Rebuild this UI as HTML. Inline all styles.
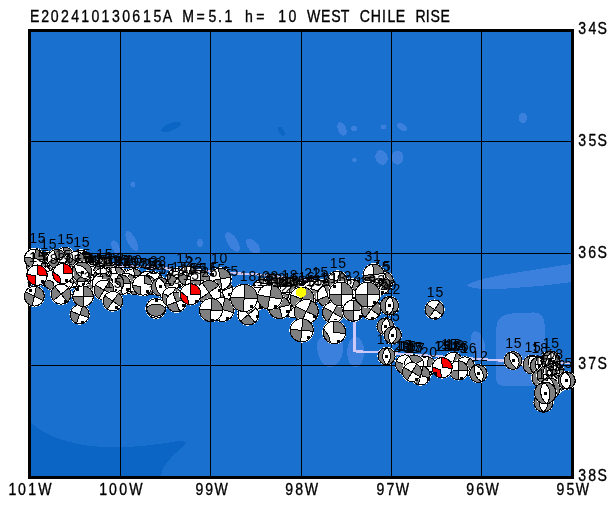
<!DOCTYPE html>
<html lang="en"><head><meta charset="utf-8"><title>E202410130615A M=5.1 h= 10 WEST CHILE RISE</title>
<style>
html,body{margin:0;padding:0;background:#fff;}
body{width:616px;height:505px;overflow:hidden;position:relative;font-family:"Liberation Sans",sans-serif;}
svg{position:absolute;left:0;top:0;display:block;}
text{fill:#000;}
.t{font-family:"Liberation Sans",sans-serif;font-size:16.8px;white-space:pre;stroke:#000;stroke-width:.35px;}
.b text{font-family:"Liberation Sans",sans-serif;font-size:14px;letter-spacing:.8px;}
</style></head><body>
<svg width="616" height="505" viewBox="0 0 616 505">
<rect x="0" y="0" width="616" height="505" fill="#fff"/>
<g>
<rect x="29" y="30" width="544" height="448" fill="#1a70cf"/>
<g shape-rendering="crispEdges"><path d="M29 421 C40 432 60 442 90 446 C120 449 150 446 178 441 C186 440 188 443 183 447 C172 456 162 465 160 478 L29 478Z" fill="#0b65c4"/><path d="M496 330 C496 318 503 314 512 313.5 L532 312.5 C540 312 544.5 316 544.5 324 L544.5 378 C544.5 383 541 386 536 386 L505 386 C499 386 496 383 496 377Z" fill="#3a80dc"/><path d="M467 285.5 C470 282 480 279.5 500 275.2 L571 264 L571 282.2 L540 286 L500 289 C485 289.6 470 288.8 467 285.5Z" fill="#3a80dc"/><path d="M317 348 C316 338 322 335 331 335 C340 335 344 339 343.5 348 C343 358 337 367.5 330 367.5 C323 367.5 318 358 317 348Z" fill="#3a80dc"/><ellipse cx="355.6" cy="352" rx="8.5" ry="15.3" fill="#3a80dc"/><ellipse cx="478" cy="346" rx="7" ry="15" fill="#3a80dc" transform="rotate(-12 478 346)"/><ellipse cx="171" cy="127" rx="10.5" ry="3.7" fill="#0b65c4" transform="rotate(-20 171 127)"/><ellipse cx="281.3" cy="131.3" rx="2.5" ry="5" fill="#0b65c4" transform="rotate(-30 281.3 131.3)"/><ellipse cx="133" cy="184.5" rx="2.5" ry="3" fill="#3a80dc"/><ellipse cx="342" cy="129" rx="4" ry="7" fill="#3a80dc" transform="rotate(-25 342 129)"/><ellipse cx="354" cy="128.5" rx="3" ry="2.5" fill="#3a80dc"/><ellipse cx="383.5" cy="127" rx="2.5" ry="2.5" fill="#3a80dc"/><ellipse cx="402" cy="127" rx="5.5" ry="3.2" fill="#3a80dc" transform="rotate(35 402 127)"/><ellipse cx="523" cy="118" rx="4" ry="5.5" fill="#3a80dc"/><ellipse cx="354.5" cy="160" rx="2.5" ry="2" fill="#3a80dc" transform="rotate(30 354.5 160)"/><ellipse cx="381.5" cy="157.5" rx="6" ry="7.5" fill="#3a80dc" transform="rotate(-20 381.5 157.5)"/><ellipse cx="397.5" cy="157.5" rx="6" ry="7" fill="#3a80dc"/><ellipse cx="131.8" cy="241" rx="4.3" ry="11" fill="#3a80dc" transform="rotate(-28 131.8 241)"/><ellipse cx="115.6" cy="247" rx="3.5" ry="7" fill="#3a80dc" transform="rotate(-25 115.6 247)"/><ellipse cx="200" cy="243" rx="3" ry="4" fill="#3a80dc"/><ellipse cx="232.5" cy="242" rx="5" ry="11" fill="#3a80dc" transform="rotate(-33 232.5 242)"/><ellipse cx="253" cy="246.2" rx="5" ry="9" fill="#3a80dc" transform="rotate(-40 253 246.2)"/></g>
</g>
<g shape-rendering="crispEdges" fill="#000">
<rect x="120" y="30" width="1" height="448"/>
<rect x="210" y="30" width="1" height="448"/>
<rect x="301" y="30" width="1" height="448"/>
<rect x="391" y="30" width="1" height="448"/>
<rect x="481" y="30" width="1" height="448"/>
<rect x="29" y="141" width="544" height="1"/>
<rect x="29" y="253" width="544" height="1"/>
<rect x="29" y="365" width="544" height="1"/>
</g>
<rect x="29.5" y="30.5" width="543" height="447" fill="none" stroke="#000" stroke-width="3" shape-rendering="crispEdges"/>
<path d="M31 261.7 L158 267.8 L238 273.4 L257 274.3 L302 279.5 L354.5 281 L354.5 351.3 L378 352.3 L500 360.5 L571 363.3" fill="none" stroke="#cdc8fa" stroke-width="2.3" stroke-linejoin="miter" shape-rendering="crispEdges"/>
<g class="b" shape-rendering="crispEdges" text-anchor="middle">
<circle cx="35" cy="258" r="10.3" fill="#fff"/><path d="M35 258L36.6 248.6A9.5 9.5 0 0 1 44.4 259.6ZM35 258L33.4 267.4A9.5 9.5 0 0 1 25.6 256.4Z" fill="#808080" stroke="#000"/><circle cx="35" cy="258" r="9.5" fill="none" stroke="#000"/><rect x="38" y="263" width="3" height="3" fill="#000"/><text x="37.8" y="243">15</text>
<circle cx="48" cy="261.5" r="10.3" fill="#fff"/><path d="M48 261.5L52.8 253.3A9.5 9.5 0 0 1 56.2 266.2ZM48 261.5L43.2 269.7A9.5 9.5 0 0 1 39.8 256.8Z" fill="#808080" stroke="#000"/><circle cx="48" cy="261.5" r="9.5" fill="none" stroke="#000"/><rect x="48" y="267" width="3" height="3" fill="#000"/><text x="48.8" y="248.5">15</text>
<circle cx="65" cy="257" r="10.3" fill="#fff"/><path d="M65 257L63.4 247.6A9.5 9.5 0 0 1 74.4 255.4ZM65 257L66.6 266.4A9.5 9.5 0 0 1 55.6 258.6Z" fill="#808080" stroke="#000"/><circle cx="65" cy="257" r="9.5" fill="none" stroke="#000"/><rect x="70" y="260" width="3" height="3" fill="#000"/><text x="65.8" y="244">15</text>
<circle cx="81" cy="259.5" r="10.3" fill="#fff"/><path d="M81 259.5L84.2 250.6A9.5 9.5 0 0 1 89.9 262.7ZM81 259.5L77.8 268.4A9.5 9.5 0 0 1 72.1 256.3Z" fill="#808080" stroke="#000"/><circle cx="81" cy="259.5" r="9.5" fill="none" stroke="#000"/><rect x="83" y="265" width="3" height="3" fill="#000"/><text x="81.8" y="246.5">15</text>
<circle cx="104" cy="267" r="10.3" fill="#fff"/><path d="M104 267L104.8 257.5A9.5 9.5 0 0 1 113.5 267.8ZM104 267L103.2 276.5A9.5 9.5 0 0 1 94.5 266.2Z" fill="#808080" stroke="#000"/><circle cx="104" cy="267" r="9.5" fill="none" stroke="#000"/><rect x="107" y="271" width="3" height="3" fill="#000"/><text x="104.8" y="258.5">15</text>
<circle cx="50" cy="268" r="10.3" fill="#fff"/><path d="M50 268L53.2 259.1A9.5 9.5 0 0 1 58.9 271.2ZM50 268L46.8 276.9A9.5 9.5 0 0 1 41.1 264.8Z" fill="#808080" stroke="#000"/><circle cx="50" cy="268" r="9.5" fill="none" stroke="#000"/><rect x="52" y="273" width="3" height="3" fill="#000"/>
<circle cx="70" cy="266" r="10.3" fill="#fff"/><path d="M70 266L66.8 257.1A9.5 9.5 0 0 1 78.9 262.8ZM70 266L73.2 274.9A9.5 9.5 0 0 1 61.1 269.2Z" fill="#808080" stroke="#000"/><circle cx="70" cy="266" r="9.5" fill="none" stroke="#000"/><rect x="75" y="268" width="3" height="3" fill="#000"/>
<circle cx="93" cy="271" r="10.3" fill="#fff"/><path d="M93 271L97.8 262.8A9.5 9.5 0 0 1 101.2 275.8ZM93 271L88.2 279.2A9.5 9.5 0 0 1 84.8 266.2Z" fill="#808080" stroke="#000"/><circle cx="93" cy="271" r="9.5" fill="none" stroke="#000"/><rect x="93" y="277" width="3" height="3" fill="#000"/>
<circle cx="36" cy="266" r="10.3" fill="#fff"/><path d="M36 266L42.1 258.7A9.5 9.5 0 0 1 43.3 272.1ZM36 266L29.9 273.3A9.5 9.5 0 0 1 28.7 259.9Z" fill="#808080" stroke="#000"/><circle cx="36" cy="266" r="9.5" fill="none" stroke="#000"/>
<circle cx="72.2" cy="278.2" r="10.5" fill="#fff"/><path d="M68.9 269.1A12.4 12.4 0 0 1 75.5 287.3A9.7 9.7 0 0 0 68.9 269.1ZM75.5 287.3A12.4 12.4 0 0 1 68.9 269.1A9.7 9.7 0 0 0 75.5 287.3Z" fill="#808080" stroke="#000"/><circle cx="72.2" cy="278.2" r="9.7" fill="none" stroke="#000"/><rect x="71" y="277" width="3" height="3" fill="#000"/><text x="73" y="265">15</text>
<circle cx="94.8" cy="280.5" r="10.9" fill="#fff"/><path d="M96.8 278.5L95.7 270.4A10.1 10.1 0 0 1 104.9 279.6ZM92.8 282.5L93.9 290.6A10.1 10.1 0 0 1 84.7 281.4Z" fill="#808080" stroke="#000"/><circle cx="94.8" cy="280.5" r="10.1" fill="none" stroke="#000"/><rect x="99" y="285" width="3" height="3" fill="#000"/><text x="95.6" y="266.9">21</text>
<circle cx="83.1" cy="275.7" r="10.6" fill="#fff"/><path d="M85 275L88 267.2A9.8 9.8 0 0 1 92.3 279.1ZM81.2 276.4L78.2 284.2A9.8 9.8 0 0 1 73.9 272.3Z" fill="#808080" stroke="#000"/><circle cx="83.1" cy="275.7" r="9.8" fill="none" stroke="#000"/><rect x="84" y="282" width="3" height="3" fill="#000"/><text x="83.9" y="262.4">22</text>
<circle cx="63.7" cy="281" r="10.7" fill="#fff"/><path d="M66.1 279.4L64.6 271.1A9.9 9.9 0 0 1 73.3 283.6ZM61.3 282.6L62.8 290.9A9.9 9.9 0 0 1 54.1 278.4Z" fill="#808080" stroke="#000"/><circle cx="63.7" cy="281" r="9.9" fill="none" stroke="#000"/><rect x="67" y="286" width="3" height="3" fill="#000"/><text x="64.5" y="267.6">13</text>
<circle cx="47.9" cy="276.4" r="11.1" fill="#fff"/><path d="M49.7 286.5A12.9 12.9 0 0 1 46.1 266.3A10.3 10.3 0 0 0 49.7 286.5ZM46.1 266.3A12.9 12.9 0 0 1 49.7 286.5A10.3 10.3 0 0 0 46.1 266.3Z" fill="#808080" stroke="#000"/><circle cx="47.9" cy="276.4" r="10.3" fill="none" stroke="#000"/><rect x="46" y="275" width="3" height="3" fill="#000"/><text x="48.7" y="262.6">15</text>
<circle cx="81.7" cy="276.3" r="10.4" fill="#fff"/><path d="M83.2 275.9L86.5 268A9.6 9.6 0 0 1 90 281.1ZM80.2 276.7L76.9 284.6A9.6 9.6 0 0 1 73.4 271.5Z" fill="#808080" stroke="#000"/><circle cx="81.7" cy="276.3" r="9.6" fill="none" stroke="#000"/><rect x="82" y="282" width="3" height="3" fill="#000"/><text x="82.5" y="263.2">16</text>
<circle cx="53.6" cy="280" r="11" fill="#fff"/><path d="M54.6 278.8L51.8 270A10.2 10.2 0 0 1 63.8 280ZM52.6 281.2L55.4 290A10.2 10.2 0 0 1 43.4 280Z" fill="#808080" stroke="#000"/><circle cx="53.6" cy="280" r="10.2" fill="none" stroke="#000"/><rect x="58" y="284" width="3" height="3" fill="#000"/><text x="54.4" y="266.3">20</text>
<text x="36.3" y="260.2">28</text>
<text x="41.4" y="260.4">25</text>
<text x="45.1" y="262.1">18</text>
<text x="52.4" y="262.6">15</text>
<text x="56.6" y="259.6">33</text>
<text x="63.5" y="262.9">15</text>
<text x="67.5" y="261.7">10</text>
<text x="72.9" y="263.1">15</text>
<text x="77.8" y="264.6">15</text>
<text x="80" y="261.5">15</text>
<text x="87.8" y="265">12</text>
<text x="92.1" y="265.6">20</text>
<text x="96.1" y="263.2">15</text>
<circle cx="34" cy="258.5" r="10.3" fill="#fff"/><path d="M34 258.5L35.6 249.1A9.5 9.5 0 0 1 43.4 260.1ZM34 258.5L32.4 267.9A9.5 9.5 0 0 1 24.6 256.9Z" fill="#808080" stroke="#000"/><circle cx="34" cy="258.5" r="9.5" fill="none" stroke="#000"/>
<circle cx="57" cy="259" r="10.3" fill="#fff"/><path d="M57 259L53.8 250.1A9.5 9.5 0 0 1 65.9 255.8ZM57 259L60.2 267.9A9.5 9.5 0 0 1 48.1 262.2Z" fill="#808080" stroke="#000"/><circle cx="57" cy="259" r="9.5" fill="none" stroke="#000"/>
<circle cx="76" cy="261" r="10.3" fill="#fff"/><path d="M76 261L80.8 252.8A9.5 9.5 0 0 1 84.2 265.8ZM76 261L71.2 269.2A9.5 9.5 0 0 1 67.8 256.2Z" fill="#808080" stroke="#000"/><circle cx="76" cy="261" r="9.5" fill="none" stroke="#000"/>
<text x="37.8" y="261.9">15</text>
<text x="49.7" y="263.5">18</text>
<text x="66" y="262.9">20</text>
<text x="73.6" y="264.7">15</text>
<text x="82.6" y="264.3">15</text>
<text x="90.9" y="265.7">15</text>
<circle cx="82" cy="272" r="10.8" fill="#fff"/><path d="M89.1 279.1A13.4 13.4 0 0 1 74.9 264.9A10 10 0 0 0 89.1 279.1ZM74.9 264.9A13.4 13.4 0 0 1 89.1 279.1A10 10 0 0 0 74.9 264.9Z" fill="#808080" stroke="#000"/><circle cx="82" cy="272" r="10" fill="none" stroke="#000"/><rect x="81" y="271" width="3" height="3" fill="#000"/><text x="82.8" y="258.5">15</text>
<circle cx="61.1" cy="294.2" r="10.8" fill="#fff"/><path d="M61.1 294.2L68.8 287.8A10 10 0 0 1 67.5 301.9ZM61.1 294.2L53.4 300.6A10 10 0 0 1 54.7 286.5Z" fill="#808080" stroke="#000"/><circle cx="61.1" cy="294.2" r="10" fill="none" stroke="#000"/><rect x="64" y="300" width="3" height="3" fill="#000"/><text x="61.9" y="280.7">13</text>
<circle cx="34.3" cy="296.2" r="10.7" fill="#fff"/><path d="M34.3 296.2L36.4 286.5A9.9 9.9 0 0 1 43.1 300.7ZM34.3 296.2L32.2 305.9A9.9 9.9 0 0 1 25.5 291.7Z" fill="#808080" stroke="#000"/><circle cx="34.3" cy="296.2" r="9.9" fill="none" stroke="#000"/><rect x="29" y="289" width="3" height="3" fill="#000"/><text x="35.1" y="282.8">15</text>
<circle cx="79.7" cy="314.5" r="10.3" fill="#fff"/><path d="M79.7 314.5L82.9 305.6A9.5 9.5 0 0 1 88.6 317.7ZM79.7 314.5L76.5 323.4A9.5 9.5 0 0 1 70.8 311.3Z" fill="#808080" stroke="#000"/><circle cx="79.7" cy="314.5" r="9.5" fill="none" stroke="#000"/><rect x="81" y="321" width="3" height="3" fill="#000"/>
<circle cx="83" cy="296.2" r="11.1" fill="#fff"/><path d="M83 296.2L83 285.9A10.3 10.3 0 0 1 93.3 296.2ZM83 296.2L83 306.5A10.3 10.3 0 0 1 72.7 296.2Z" fill="#808080" stroke="#000"/><circle cx="83" cy="296.2" r="10.3" fill="none" stroke="#000"/><rect x="76" y="288" width="3" height="3" fill="#000"/><text x="83.8" y="282.4">23</text>
<circle cx="37" cy="275.2" r="11" fill="#fff"/><path d="M37.3 274.9L37.9 265A10.2 10.2 0 0 1 47.2 275.6ZM36 275.7L35.9 285.3A10.2 10.2 0 0 1 26.8 274.3Z" fill="#ff0000" stroke="#000"/><circle cx="37" cy="275.2" r="10.2" fill="none" stroke="#000"/><rect x="41" y="280" width="3" height="3" fill="#000"/><text x="37.8" y="261.5">15</text>
<circle cx="62.8" cy="273.6" r="10.9" fill="#fff"/><path d="M63.3 273.2L63.7 263.5A10.1 10.1 0 0 1 72.9 273.2ZM59.6 276.4L61 283.5A10.1 10.1 0 0 1 52.9 271.8Z" fill="#ff0000" stroke="#000"/><circle cx="62.8" cy="273.6" r="10.1" fill="none" stroke="#000"/><rect x="65" y="279" width="3" height="3" fill="#000"/><text x="63.6" y="260">15</text>
<circle cx="122.7" cy="279.1" r="10.7" fill="#fff"/><path d="M124.4 276.7L121 269.4A9.9 9.9 0 0 1 132.4 277.4ZM121 281.5L124.4 288.8A9.9 9.9 0 0 1 113 280.8Z" fill="#808080" stroke="#000"/><circle cx="122.7" cy="279.1" r="9.9" fill="none" stroke="#000"/><rect x="128" y="282" width="3" height="3" fill="#000"/><text x="123.5" y="265.7">17</text>
<circle cx="130.1" cy="280.1" r="11.3" fill="#fff"/><path d="M133 279.8L136.8 272.1A10.5 10.5 0 0 1 138.1 286.8ZM127.2 280.4L123.4 288.1A10.5 10.5 0 0 1 122.1 273.4Z" fill="#808080" stroke="#000"/><circle cx="130.1" cy="280.1" r="10.5" fill="none" stroke="#000"/><rect x="129" y="287" width="3" height="3" fill="#000"/><text x="130.9" y="266.1">20</text>
<circle cx="115.5" cy="277.4" r="11.3" fill="#fff"/><path d="M116.6 276.3L115.5 266.9A10.5 10.5 0 0 1 126 277.4ZM114.4 278.5L115.5 287.9A10.5 10.5 0 0 1 105 277.4Z" fill="#808080" stroke="#000"/><circle cx="115.5" cy="277.4" r="10.5" fill="none" stroke="#000"/><rect x="120" y="282" width="3" height="3" fill="#000"/><text x="116.3" y="263.4">22</text>
<circle cx="133.3" cy="278.4" r="10.5" fill="#fff"/><path d="M135.2 276.8L133.3 268.7A9.7 9.7 0 0 1 142.9 280.1ZM131.4 280L133.3 288.1A9.7 9.7 0 0 1 123.7 276.7Z" fill="#808080" stroke="#000"/><circle cx="133.3" cy="278.4" r="9.7" fill="none" stroke="#000"/><rect x="137" y="283" width="3" height="3" fill="#000"/><text x="134.1" y="265.2">20</text>
<circle cx="147.5" cy="281.6" r="11.2" fill="#fff"/><path d="M150.5 281.3L154.2 273.6A10.4 10.4 0 0 1 155.5 288.3ZM144.5 281.9L140.8 289.6A10.4 10.4 0 0 1 139.5 274.9Z" fill="#808080" stroke="#000"/><circle cx="147.5" cy="281.6" r="10.4" fill="none" stroke="#000"/><rect x="147" y="288" width="3" height="3" fill="#000"/><text x="148.3" y="267.7">25</text>
<circle cx="103.3" cy="278.2" r="11.1" fill="#fff"/><path d="M105.7 278L109.9 270.3A10.3 10.3 0 0 1 111.2 284.8ZM100.9 278.4L96.7 286.1A10.3 10.3 0 0 1 95.4 271.6Z" fill="#808080" stroke="#000"/><circle cx="103.3" cy="278.2" r="10.3" fill="none" stroke="#000"/><rect x="103" y="285" width="3" height="3" fill="#000"/><text x="104.1" y="264.4">15</text>
<circle cx="153.5" cy="281.9" r="10.8" fill="#fff"/><path d="M155.8 281.9L159.9 274.2A10 10 0 0 1 159.9 289.6ZM151.2 281.9L147.1 289.6A10 10 0 0 1 147.1 274.2Z" fill="#808080" stroke="#000"/><circle cx="153.5" cy="281.9" r="10" fill="none" stroke="#000"/><rect x="152" y="288" width="3" height="3" fill="#000"/><text x="154.3" y="268.4">16</text>
<circle cx="135.4" cy="285" r="10.5" fill="#fff"/><path d="M136.5 283.7L133.7 275.4A9.7 9.7 0 0 1 145.1 285ZM134.3 286.3L137.1 294.6A9.7 9.7 0 0 1 125.7 285Z" fill="#808080" stroke="#000"/><circle cx="135.4" cy="285" r="9.7" fill="none" stroke="#000"/><rect x="140" y="288" width="3" height="3" fill="#000"/>
<circle cx="146.6" cy="285.3" r="10.5" fill="#fff"/><path d="M148.3 294.9A12.7 12.7 0 0 1 144.9 275.7A9.7 9.7 0 0 0 148.3 294.9ZM144.9 275.7A12.7 12.7 0 0 1 148.3 294.9A9.7 9.7 0 0 0 144.9 275.7Z" fill="#808080" stroke="#000"/><circle cx="146.6" cy="285.3" r="9.7" fill="none" stroke="#000"/><rect x="145" y="284" width="3" height="3" fill="#000"/>
<circle cx="125.8" cy="283.5" r="11.1" fill="#fff"/><path d="M126.8 282.9L129.3 273.8A10.3 10.3 0 0 1 135.9 285.3ZM124.8 284.1L122.3 293.2A10.3 10.3 0 0 1 115.7 281.7Z" fill="#808080" stroke="#000"/><circle cx="125.8" cy="283.5" r="10.3" fill="none" stroke="#000"/><rect x="128" y="289" width="3" height="3" fill="#000"/>
<circle cx="120.8" cy="284.7" r="10.8" fill="#fff"/><path d="M121.7 283.5L119.1 274.9A10 10 0 0 1 130.6 283ZM119.9 285.9L122.5 294.5A10 10 0 0 1 111 286.4Z" fill="#808080" stroke="#000"/><circle cx="120.8" cy="284.7" r="10" fill="none" stroke="#000"/><rect x="126" y="288" width="3" height="3" fill="#000"/>
<circle cx="142.6" cy="285.2" r="10.8" fill="#fff"/><path d="M144.5 283.6L144.3 275.4A10 10 0 0 1 152.6 285.2ZM140.7 286.8L140.9 295A10 10 0 0 1 132.6 285.2Z" fill="#808080" stroke="#000"/><circle cx="142.6" cy="285.2" r="10" fill="none" stroke="#000"/><rect x="146" y="290" width="3" height="3" fill="#000"/>
<circle cx="113.8" cy="283" r="10.7" fill="#fff"/><path d="M115.6 282.5L118.8 274.4A9.9 9.9 0 0 1 122.4 287.9ZM112 283.5L108.8 291.6A9.9 9.9 0 0 1 105.2 278.1Z" fill="#808080" stroke="#000"/><circle cx="113.8" cy="283" r="9.9" fill="none" stroke="#000"/><rect x="114" y="289" width="3" height="3" fill="#000"/>
<circle cx="102.5" cy="283.5" r="11.1" fill="#fff"/><path d="M103.3 282.4L101.6 273.2A10.3 10.3 0 0 1 112.4 280.8ZM101.7 284.6L103.4 293.8A10.3 10.3 0 0 1 92.6 286.2Z" fill="#808080" stroke="#000"/><circle cx="102.5" cy="283.5" r="10.3" fill="none" stroke="#000"/><rect x="108" y="287" width="3" height="3" fill="#000"/>
<text x="100" y="265.3">15</text>
<text x="103.7" y="264.1">13</text>
<text x="108.4" y="265.7">10</text>
<text x="113.5" y="265.8">33</text>
<text x="114.8" y="266">10</text>
<text x="120.5" y="264.9">15</text>
<text x="123.4" y="267.5">15</text>
<text x="129.6" y="267.8">15</text>
<text x="133.3" y="268.2">15</text>
<text x="139.7" y="268.4">15</text>
<text x="147.7" y="267.8">15</text>
<text x="151.7" y="269.3">21</text>
<text x="154.7" y="270.3">13</text>
<circle cx="104" cy="290" r="10.8" fill="#fff"/><path d="M104 290L109 281.3A10 10 0 0 1 112.7 295ZM104 290L99 298.7A10 10 0 0 1 95.3 285Z" fill="#808080" stroke="#000"/><circle cx="104" cy="290" r="10" fill="none" stroke="#000"/><rect x="105" y="296" width="3" height="3" fill="#000"/><text x="104.8" y="276.5">18</text>
<circle cx="112.9" cy="301.2" r="10.6" fill="#fff"/><path d="M112.9 301.2L118.5 293.2A9.8 9.8 0 0 1 120.9 306.8ZM112.9 301.2L107.3 309.2A9.8 9.8 0 0 1 104.9 295.6Z" fill="#808080" stroke="#000"/><circle cx="112.9" cy="301.2" r="9.8" fill="none" stroke="#000"/><rect x="115" y="306" width="3" height="3" fill="#000"/><text x="113.7" y="287.9">15</text>
<circle cx="156" cy="308.4" r="10.6" fill="#fff"/><path d="M165.8 308.4A10 10 0 0 1 146.2 308.4A13.1 13.1 0 0 1 165.8 308.4Z" fill="#808080" stroke="#000"/><circle cx="156" cy="308.4" r="9.8" fill="none" stroke="#000"/><rect x="155" y="299" width="3" height="3" fill="#000"/><text x="156.8" y="295.1">13</text>
<circle cx="160.6" cy="286.8" r="10" fill="#fff"/><path d="M158.2 277.9A11.5 11.5 0 0 1 163 295.7A9.2 9.2 0 0 0 158.2 277.9ZM163 295.7A11.5 11.5 0 0 1 158.2 277.9A9.2 9.2 0 0 0 163 295.7Z" fill="#808080" stroke="#000"/><circle cx="160.6" cy="286.8" r="9.2" fill="none" stroke="#000"/><rect x="159" y="285" width="3" height="3" fill="#000"/><text x="158.4" y="274.1">23</text>
<circle cx="177" cy="278" r="10.6" fill="#fff"/><path d="M177 278L181.9 269.5A9.8 9.8 0 0 1 185.5 282.9ZM177 278L172.1 286.5A9.8 9.8 0 0 1 168.5 273.1Z" fill="#808080" stroke="#000"/><circle cx="177" cy="278" r="9.8" fill="none" stroke="#000"/><rect x="178" y="284" width="3" height="3" fill="#000"/><text x="158.3" y="265.7">23</text>
<circle cx="188" cy="276" r="10.6" fill="#fff"/><path d="M188 276L191.4 266.8A9.8 9.8 0 0 1 197.2 279.4ZM188 276L184.6 285.2A9.8 9.8 0 0 1 178.8 272.6Z" fill="#808080" stroke="#000"/><circle cx="188" cy="276" r="9.8" fill="none" stroke="#000"/><rect x="190" y="282" width="3" height="3" fill="#000"/><text x="184.8" y="262.7">15</text>
<circle cx="200" cy="280" r="10.6" fill="#fff"/><path d="M200 280L200 270.2A9.8 9.8 0 0 1 209.8 280ZM200 280L200 289.8A9.8 9.8 0 0 1 190.2 280Z" fill="#808080" stroke="#000"/><circle cx="200" cy="280" r="9.8" fill="none" stroke="#000"/><rect x="204" y="284" width="3" height="3" fill="#000"/><text x="194.3" y="267.2">22</text>
<text x="166.7" y="274.2">15</text>
<text x="177.1" y="276.2">15</text>
<text x="179.9" y="272">15</text>
<text x="189.4" y="272.9">15</text>
<text x="195.4" y="273.5">15</text>
<text x="198.7" y="273.3">15</text>
<text x="209.3" y="273.4">15</text>
<text x="217.5" y="274.4">15</text>
<text x="224.1" y="278.9">15</text>
<text x="230.6" y="276.4">15</text>
<circle cx="172" cy="297" r="10.8" fill="#fff"/><path d="M172 297L175.4 287.6A10 10 0 0 1 181.4 300.4ZM172 297L168.6 306.4A10 10 0 0 1 162.6 293.6Z" fill="#808080" stroke="#000"/><circle cx="172" cy="297" r="10" fill="none" stroke="#000"/><rect x="174" y="303" width="3" height="3" fill="#000"/><text x="172.8" y="283.5">23</text>
<circle cx="176.3" cy="302" r="10.8" fill="#fff"/><path d="M176.3 302L172.9 292.6A10 10 0 0 1 185.7 298.6ZM176.3 302L179.7 311.4A10 10 0 0 1 166.9 305.4Z" fill="#808080" stroke="#000"/><circle cx="176.3" cy="302" r="10" fill="none" stroke="#000"/><rect x="182" y="304" width="3" height="3" fill="#000"/>
<circle cx="231" cy="298.5" r="11.3" fill="#fff"/><path d="M231 298.5L236.2 289.4A10.5 10.5 0 0 1 240.1 303.8ZM231 298.5L225.8 307.6A10.5 10.5 0 0 1 221.9 293.2Z" fill="#808080" stroke="#000"/><circle cx="231" cy="298.5" r="10.5" fill="none" stroke="#000"/><rect x="232" y="305" width="3" height="3" fill="#000"/>
<circle cx="222" cy="291" r="11.8" fill="#fff"/><path d="M222 291L218.2 280.7A11 11 0 0 1 232.3 287.2ZM222 291L225.8 301.3A11 11 0 0 1 211.7 294.8Z" fill="#808080" stroke="#000"/><circle cx="222" cy="291" r="11" fill="none" stroke="#000"/><rect x="228" y="293" width="3" height="3" fill="#000"/><text x="222.8" y="276.5">25</text>
<circle cx="220.3" cy="279" r="11.6" fill="#fff"/><path d="M220.3 279L218.4 268.4A10.8 10.8 0 0 1 230.9 277.1ZM220.3 279L222.2 289.6A10.8 10.8 0 0 1 209.7 280.9Z" fill="#808080" stroke="#000"/><circle cx="220.3" cy="279" r="10.8" fill="none" stroke="#000"/><rect x="211" y="273" width="3" height="3" fill="#000"/><text x="219.6" y="263.2">10</text>
<circle cx="209" cy="292.5" r="12.8" fill="#fff"/><path d="M209 292.5L202.1 282.7A12 12 0 0 1 218.8 285.6ZM209 292.5L215.9 302.3A12 12 0 0 1 199.2 299.4Z" fill="#808080" stroke="#000"/><circle cx="209" cy="292.5" r="12" fill="none" stroke="#000"/><rect x="218" y="289" width="3" height="3" fill="#000"/><text x="209.8" y="277">25</text>
<circle cx="222" cy="309.5" r="12.8" fill="#fff"/><path d="M222 309.5L225.1 297.9A12 12 0 0 1 233.6 312.6ZM222 309.5L218.9 321.1A12 12 0 0 1 210.4 306.4Z" fill="#808080" stroke="#000"/><circle cx="222" cy="309.5" r="12" fill="none" stroke="#000"/><rect x="226" y="317" width="3" height="3" fill="#000"/>
<circle cx="211" cy="310" r="12.3" fill="#fff"/><path d="M211 310L212 298.5A11.5 11.5 0 0 1 222.5 311ZM211 310L210 321.5A11.5 11.5 0 0 1 199.5 309Z" fill="#808080" stroke="#000"/><circle cx="211" cy="310" r="11.5" fill="none" stroke="#000"/><rect x="211" y="319" width="3" height="3" fill="#000"/>
<circle cx="190.5" cy="294.2" r="11.3" fill="#fff"/><path d="M190.7 294.4L190.5 283.7A10.5 10.5 0 0 1 201 295.1ZM187.3 296.8L189 304.6A10.5 10.5 0 0 1 180.4 291.5Z" fill="#ff0000" stroke="#000"/><circle cx="190.5" cy="294.2" r="10.5" fill="none" stroke="#000"/><rect x="195" y="300" width="3" height="3" fill="#000"/><text x="191.3" y="280.2">15</text>
<circle cx="263" cy="290" r="11.8" fill="#fff"/><path d="M263 290L268.5 280.5A11 11 0 0 1 272.5 295.5ZM263 290L257.5 299.5A11 11 0 0 1 253.5 284.5Z" fill="#808080" stroke="#000"/><circle cx="263" cy="290" r="11" fill="none" stroke="#000"/><rect x="264" y="297" width="3" height="3" fill="#000"/><text x="263.8" y="282.5">13</text>
<circle cx="277" cy="289" r="11.8" fill="#fff"/><path d="M277 289L277 278A11 11 0 0 1 288 289ZM277 289L277 300A11 11 0 0 1 266 289Z" fill="#808080" stroke="#000"/><circle cx="277" cy="289" r="11" fill="none" stroke="#000"/><rect x="282" y="294" width="3" height="3" fill="#000"/><text x="277.8" y="282.5">22</text>
<circle cx="291" cy="289" r="11.8" fill="#fff"/><path d="M291 289L294.8 278.7A11 11 0 0 1 301.3 292.8ZM291 289L287.2 299.3A11 11 0 0 1 280.7 285.2Z" fill="#808080" stroke="#000"/><circle cx="291" cy="289" r="11" fill="none" stroke="#000"/><rect x="293" y="295" width="3" height="3" fill="#000"/><text x="291.8" y="282.5">15</text>
<circle cx="258" cy="298" r="11.8" fill="#fff"/><path d="M258 298L263.5 288.5A11 11 0 0 1 267.5 303.5ZM258 298L252.5 307.5A11 11 0 0 1 248.5 292.5Z" fill="#808080" stroke="#000"/><circle cx="258" cy="298" r="11" fill="none" stroke="#000"/><rect x="259" y="305" width="3" height="3" fill="#000"/>
<circle cx="289" cy="294.5" r="11.8" fill="#fff"/><path d="M289 294.5L290.9 283.7A11 11 0 0 1 299.8 296.4ZM289 294.5L287.1 305.3A11 11 0 0 1 278.2 292.6Z" fill="#808080" stroke="#000"/><circle cx="289" cy="294.5" r="11" fill="none" stroke="#000"/><rect x="293" y="300" width="3" height="3" fill="#000"/><text x="289.8" y="280">18</text>
<circle cx="293" cy="307" r="11.3" fill="#fff"/><path d="M293 307L298.2 297.9A10.5 10.5 0 0 1 302.1 312.2ZM293 307L287.8 316.1A10.5 10.5 0 0 1 283.9 301.8Z" fill="#808080" stroke="#000"/><circle cx="293" cy="307" r="10.5" fill="none" stroke="#000"/><rect x="294" y="314" width="3" height="3" fill="#000"/><text x="293.8" y="293">22</text>
<circle cx="279.5" cy="307.5" r="11.8" fill="#fff"/><path d="M279.5 307.5L276.7 296.9A11 11 0 0 1 290.1 304.7ZM279.5 307.5L282.3 318.1A11 11 0 0 1 268.9 310.3Z" fill="#808080" stroke="#000"/><circle cx="279.5" cy="307.5" r="11" fill="none" stroke="#000"/><rect x="286" y="310" width="3" height="3" fill="#000"/><text x="280.3" y="293">22</text>
<circle cx="269.8" cy="297" r="13.2" fill="#fff"/><path d="M269.8 297L272 284.8A12.4 12.4 0 0 1 282 299.2ZM269.8 297L267.6 309.2A12.4 12.4 0 0 1 257.6 294.8Z" fill="#808080" stroke="#000"/><circle cx="269.8" cy="297" r="12.4" fill="none" stroke="#000"/><rect x="274" y="305" width="3" height="3" fill="#000"/><text x="270.6" y="281.1">23</text>
<circle cx="248.3" cy="314.6" r="11.1" fill="#fff"/><path d="M248.3 314.6L241.7 306.7A10.3 10.3 0 0 1 256.2 308ZM248.3 314.6L254.9 322.5A10.3 10.3 0 0 1 240.4 321.2Z" fill="#808080" stroke="#000"/><circle cx="248.3" cy="314.6" r="10.3" fill="none" stroke="#000"/><rect x="256" y="315" width="3" height="3" fill="#000"/>
<circle cx="244.1" cy="298" r="14.3" fill="#fff"/><path d="M244.1 298L244.6 284.5A13.5 13.5 0 0 1 257.6 298.5ZM244.1 298L243.6 311.5A13.5 13.5 0 0 1 230.6 297.5Z" fill="#808080" stroke="#000"/><circle cx="244.1" cy="298" r="13.5" fill="none" stroke="#000"/><rect x="250" y="305" width="3" height="3" fill="#000"/><text x="248.4" y="281">18</text>
<text x="265.3" y="286.1">15</text>
<text x="267.7" y="283.5">15</text>
<text x="274.5" y="283.5">28</text>
<text x="280.7" y="286.6">15</text>
<text x="284" y="286.6">10</text>
<text x="287.5" y="286.6">15</text>
<text x="290.5" y="285.9">18</text>
<text x="298.1" y="285.9">15</text>
<text x="301.7" y="288.3">15</text>
<text x="307.5" y="287.9">15</text>
<text x="311.8" y="288.6">15</text>
<text x="315.9" y="286.4">15</text>
<circle cx="312" cy="292" r="11.8" fill="#fff"/><path d="M312 292L317.5 282.5A11 11 0 0 1 321.5 297.5ZM312 292L306.5 301.5A11 11 0 0 1 302.5 286.5Z" fill="#808080" stroke="#000"/><circle cx="312" cy="292" r="11" fill="none" stroke="#000"/><rect x="313" y="299" width="3" height="3" fill="#000"/><text x="312.8" y="277.5">22</text>
<circle cx="321.7" cy="291.2" r="11.8" fill="#fff"/><path d="M321.7 291.2L323.6 280.4A11 11 0 0 1 332.5 293.1ZM321.7 291.2L319.8 302A11 11 0 0 1 310.9 289.3Z" fill="#808080" stroke="#000"/><circle cx="321.7" cy="291.2" r="11" fill="none" stroke="#000"/><rect x="325" y="297" width="3" height="3" fill="#000"/><text x="320.5" y="276.7">15</text>
<circle cx="328" cy="296" r="11.8" fill="#fff"/><path d="M328 296L324.2 285.7A11 11 0 0 1 338.3 292.2ZM328 296L331.8 306.3A11 11 0 0 1 317.7 299.8Z" fill="#808080" stroke="#000"/><circle cx="328" cy="296" r="11" fill="none" stroke="#000"/><rect x="334" y="298" width="3" height="3" fill="#000"/><text x="328.8" y="281.5">13</text>
<circle cx="351.5" cy="289" r="10.8" fill="#fff"/><path d="M351.5 289L354.9 279.6A10 10 0 0 1 360.9 292.4ZM351.5 289L348.1 298.4A10 10 0 0 1 342.1 285.6Z" fill="#808080" stroke="#000"/><circle cx="351.5" cy="289" r="10" fill="none" stroke="#000"/><rect x="353" y="295" width="3" height="3" fill="#000"/><text x="352.3" y="280.5">22</text>
<circle cx="337.5" cy="281" r="10.6" fill="#fff"/><path d="M337.5 281L340 271.5A9.8 9.8 0 0 1 347 283.5ZM337.5 281L335 290.5A9.8 9.8 0 0 1 328 278.5Z" fill="#808080" stroke="#000"/><circle cx="337.5" cy="281" r="9.8" fill="none" stroke="#000"/><rect x="340" y="286" width="3" height="3" fill="#000"/><text x="338.3" y="267.7">15</text>
<text x="306.9" y="282.3">16</text>
<text x="307.4" y="286.8">15</text>
<text x="314.4" y="286.3">15</text>
<text x="322.5" y="285.1">13</text>
<text x="330.3" y="283">21</text>
<text x="338.3" y="282.9">13</text>
<text x="344.5" y="285">13</text>
<circle cx="302" cy="299" r="12.8" fill="#fff"/><path d="M302 299L306.1 287.7A12 12 0 0 1 313.3 303.1ZM302 299L297.9 310.3A12 12 0 0 1 290.7 294.9Z" fill="#808080" stroke="#000"/><circle cx="302" cy="299" r="12" fill="none" stroke="#000"/><rect x="308" y="299" width="3" height="3" fill="#000"/>
<circle cx="306.3" cy="311.5" r="12.8" fill="#fff"/><path d="M306.3 311.5L311.4 300.6A12 12 0 0 1 317.2 316.6ZM306.3 311.5L301.2 322.4A12 12 0 0 1 295.4 306.4Z" fill="#808080" stroke="#000"/><circle cx="306.3" cy="311.5" r="12" fill="none" stroke="#000"/><rect x="313" y="315" width="3" height="3" fill="#000"/>
<circle cx="333" cy="312.5" r="11.3" fill="#fff"/><path d="M333 312.5L338.2 303.4A10.5 10.5 0 0 1 342.1 317.8ZM333 312.5L327.8 321.6A10.5 10.5 0 0 1 323.9 307.2Z" fill="#808080" stroke="#000"/><circle cx="333" cy="312.5" r="10.5" fill="none" stroke="#000"/><rect x="334" y="319" width="3" height="3" fill="#000"/>
<circle cx="341" cy="294" r="12.8" fill="#fff"/><path d="M341 294L341 282A12 12 0 0 1 353 294ZM341 294L341 306A12 12 0 0 1 329 294Z" fill="#808080" stroke="#000"/><circle cx="341" cy="294" r="12" fill="none" stroke="#000"/><rect x="333" y="285" width="3" height="3" fill="#000"/>
<circle cx="353.4" cy="310.7" r="11.3" fill="#fff"/><path d="M353.4 310.7L353.4 300.2A10.5 10.5 0 0 1 363.9 310.7ZM353.4 310.7L353.4 321.2A10.5 10.5 0 0 1 342.9 310.7Z" fill="#808080" stroke="#000"/><circle cx="353.4" cy="310.7" r="10.5" fill="none" stroke="#000"/><rect x="359" y="315" width="3" height="3" fill="#000"/>
<circle cx="301.7" cy="330.3" r="12.3" fill="#fff"/><path d="M301.7 330.3L302.7 318.8A11.5 11.5 0 0 1 313.2 331.3ZM301.7 330.3L300.7 341.8A11.5 11.5 0 0 1 290.2 329.3Z" fill="#808080" stroke="#000"/><circle cx="301.7" cy="330.3" r="11.5" fill="none" stroke="#000"/><rect x="307" y="336" width="3" height="3" fill="#000"/>
<circle cx="334.4" cy="332.3" r="12.1" fill="#fff"/><path d="M333.3 332L333.2 321.1A11.3 11.3 0 0 1 345.6 333.9ZM328.5 335.5L330.5 342.9A11.3 11.3 0 0 1 323.6 329Z" fill="#808080" stroke="#000"/><circle cx="334.4" cy="332.3" r="11.3" fill="none" stroke="#000"/><rect x="337" y="340" width="3" height="3" fill="#000"/>
<circle cx="384" cy="281" r="10.1" fill="#fff"/><path d="M384 281L386.4 272A9.3 9.3 0 0 1 393 283.4ZM384 281L381.6 290A9.3 9.3 0 0 1 375 278.6Z" fill="#808080" stroke="#000"/><circle cx="384" cy="281" r="9.3" fill="none" stroke="#000"/><rect x="386" y="286" width="3" height="3" fill="#000"/><text x="382.8" y="271.2">15</text>
<circle cx="381" cy="285" r="10.1" fill="#fff"/><path d="M381 285L385.6 276.9A9.3 9.3 0 0 1 389.1 289.6ZM381 285L376.4 293.1A9.3 9.3 0 0 1 372.9 280.4Z" fill="#808080" stroke="#000"/><circle cx="381" cy="285" r="9.3" fill="none" stroke="#000"/><rect x="381" y="291" width="3" height="3" fill="#000"/><text x="381.8" y="272.2">15</text>
<circle cx="373.7" cy="274.5" r="11.2" fill="#fff"/><path d="M373.7 274.5L372.8 264.1A10.4 10.4 0 0 1 384.1 273.6ZM373.7 274.5L374.6 284.9A10.4 10.4 0 0 1 363.3 275.4Z" fill="#808080" stroke="#000"/><circle cx="373.7" cy="274.5" r="10.4" fill="none" stroke="#000"/><rect x="379" y="278" width="3" height="3" fill="#000"/><text x="373" y="260.6">31</text>
<text x="363.8" y="286.8">15</text>
<text x="367.7" y="287">15</text>
<text x="373.5" y="287.8">28</text>
<text x="377.2" y="285">23</text>
<text x="381.1" y="288.9">25</text>
<text x="388.5" y="289.8">20</text>
<circle cx="371" cy="309.5" r="10.8" fill="#fff"/><path d="M371 309.5L376.7 301.3A10 10 0 0 1 379.2 315.2ZM371 309.5L365.3 317.7A10 10 0 0 1 362.8 303.8Z" fill="#808080" stroke="#000"/><circle cx="371" cy="309.5" r="10" fill="none" stroke="#000"/><rect x="371" y="317" width="3" height="3" fill="#000"/>
<circle cx="367.5" cy="294.6" r="13.3" fill="#fff"/><path d="M367.5 294.6L367.5 282.1A12.5 12.5 0 0 1 380 294.6ZM367.5 294.6L367.5 307.1A12.5 12.5 0 0 1 355 294.6Z" fill="#808080" stroke="#000"/><circle cx="367.5" cy="294.6" r="12.5" fill="none" stroke="#000"/><rect x="373" y="301" width="3" height="3" fill="#000"/>
<circle cx="389.3" cy="305.8" r="10" fill="#fff"/><path d="M390.1 296.6A12.3 12.3 0 0 1 388.5 315A9.2 9.2 0 0 0 390.1 296.6ZM388.5 315A12.3 12.3 0 0 1 390.1 296.6A9.2 9.2 0 0 0 388.5 315Z" fill="#808080" stroke="#000"/><circle cx="389.3" cy="305.8" r="9.2" fill="none" stroke="#000"/><rect x="388" y="304" width="3" height="3" fill="#000"/><text x="392.6" y="294.1">12</text>
<text x="392" y="320.5">15</text>
<circle cx="386.6" cy="356.2" r="9.3" fill="#fff"/><path d="M386.6 347.7A11.4 11.4 0 0 1 386.6 364.7A8.5 8.5 0 0 0 386.6 347.7ZM386.6 364.7A11.4 11.4 0 0 1 386.6 347.7A8.5 8.5 0 0 0 386.6 364.7Z" fill="#808080" stroke="#000"/><circle cx="386.6" cy="356.2" r="8.5" fill="none" stroke="#000"/><rect x="385" y="355" width="3" height="3" fill="#000"/><text x="385.4" y="344.2">12</text>
<circle cx="385.5" cy="326.5" r="9.3" fill="#fff"/><path d="M387 318.1A11.4 11.4 0 0 1 384 334.9A8.5 8.5 0 0 0 387 318.1ZM384 334.9A11.4 11.4 0 0 1 387 318.1A8.5 8.5 0 0 0 384 334.9Z" fill="#808080" stroke="#000"/><circle cx="385.5" cy="326.5" r="8.5" fill="none" stroke="#000"/><rect x="384" y="325" width="3" height="3" fill="#000"/>
<circle cx="392.7" cy="335.2" r="9.4" fill="#fff"/><path d="M394.2 326.7A11.5 11.5 0 0 1 391.2 343.7A8.6 8.6 0 0 0 394.2 326.7ZM391.2 343.7A11.5 11.5 0 0 1 394.2 326.7A8.6 8.6 0 0 0 391.2 343.7Z" fill="#808080" stroke="#000"/><circle cx="392.7" cy="335.2" r="8.6" fill="none" stroke="#000"/><rect x="391" y="334" width="3" height="3" fill="#000"/>
<circle cx="405" cy="364.4" r="10.3" fill="#fff"/><path d="M405 364.4L408.2 355.5A9.5 9.5 0 0 1 413.9 367.6ZM405 364.4L401.8 373.3A9.5 9.5 0 0 1 396.1 361.2Z" fill="#808080" stroke="#000"/><circle cx="405" cy="364.4" r="9.5" fill="none" stroke="#000"/><rect x="407" y="370" width="3" height="3" fill="#000"/><text x="405.8" y="351.4">18</text>
<circle cx="427" cy="366.4" r="10.3" fill="#fff"/><path d="M427 366.4L428.6 357A9.5 9.5 0 0 1 436.4 368ZM427 366.4L425.4 375.8A9.5 9.5 0 0 1 417.6 364.8Z" fill="#808080" stroke="#000"/><circle cx="427" cy="366.4" r="9.5" fill="none" stroke="#000"/><rect x="430" y="371" width="3" height="3" fill="#000"/><text x="429.3" y="357.4">20</text>
<circle cx="414" cy="365" r="10.8" fill="#fff"/><path d="M414 365L409 356.3A10 10 0 0 1 422.7 360ZM414 365L419 373.7A10 10 0 0 1 405.3 370Z" fill="#808080" stroke="#000"/><circle cx="414" cy="365" r="10" fill="none" stroke="#000"/><rect x="420" y="366" width="3" height="3" fill="#000"/><text x="414.8" y="351.5">15</text>
<circle cx="420.7" cy="375.5" r="10.3" fill="#fff"/><path d="M420.7 375.5L423.2 366.3A9.5 9.5 0 0 1 429.9 378ZM420.7 375.5L418.2 384.7A9.5 9.5 0 0 1 411.5 373Z" fill="#808080" stroke="#000"/><circle cx="420.7" cy="375.5" r="9.5" fill="none" stroke="#000"/><rect x="427" y="378" width="3" height="3" fill="#000"/>
<circle cx="412" cy="372" r="10.3" fill="#fff"/><path d="M412 372L416.8 363.8A9.5 9.5 0 0 1 420.2 376.8ZM412 372L407.2 380.2A9.5 9.5 0 0 1 403.8 367.2Z" fill="#808080" stroke="#000"/><circle cx="412" cy="372" r="9.5" fill="none" stroke="#000"/><rect x="415" y="378" width="3" height="3" fill="#000"/>
<text x="401.9" y="351.6">23</text>
<text x="404.2" y="350.3">15</text>
<text x="408" y="351.1">15</text>
<text x="408.7" y="351.3">12</text>
<text x="413" y="353.4">17</text>
<text x="414.7" y="353">17</text>
<text x="417.1" y="353.4">17</text>
<circle cx="453" cy="362.5" r="10.8" fill="#fff"/><path d="M453 362.5L456.4 353.1A10 10 0 0 1 462.4 365.9ZM453 362.5L449.6 371.9A10 10 0 0 1 443.6 359.1Z" fill="#808080" stroke="#000"/><circle cx="453" cy="362.5" r="10" fill="none" stroke="#000"/><rect x="455" y="368" width="3" height="3" fill="#000"/><text x="453.8" y="349">18</text>
<circle cx="465" cy="366.4" r="10.3" fill="#fff"/><path d="M465 366.4L469.8 358.2A9.5 9.5 0 0 1 473.2 371.1ZM465 366.4L460.2 374.6A9.5 9.5 0 0 1 456.8 361.6Z" fill="#808080" stroke="#000"/><circle cx="465" cy="366.4" r="9.5" fill="none" stroke="#000"/><rect x="465" y="372" width="3" height="3" fill="#000"/><text x="468.8" y="352.9">16</text>
<circle cx="458.6" cy="370.3" r="10.3" fill="#fff"/><path d="M458.6 370.3L458.6 360.8A9.5 9.5 0 0 1 468.1 370.3ZM458.6 370.3L458.6 379.8A9.5 9.5 0 0 1 449.1 370.3Z" fill="#808080" stroke="#000"/><circle cx="458.6" cy="370.3" r="9.5" fill="none" stroke="#000"/><rect x="460" y="377" width="3" height="3" fill="#000"/><text x="459.4" y="353.3">15</text>
<circle cx="442.2" cy="367.7" r="10.9" fill="#fff"/><path d="M442.4 367.3L441.3 357.6A10.1 10.1 0 0 1 452.3 368.6ZM440.2 369.7L441.8 377.8A10.1 10.1 0 0 1 432.1 366.8Z" fill="#ff0000" stroke="#000"/><circle cx="442.2" cy="367.7" r="10.1" fill="none" stroke="#000"/><rect x="434" y="372" width="3" height="3" fill="#000"/><text x="443" y="351.1">15</text>
<text x="442.8" y="350.9">13</text>
<text x="445.5" y="350.8">21</text>
<text x="449.9" y="349.1">15</text>
<text x="452.4" y="351.3">23</text>
<text x="455.9" y="350.2">12</text>
<text x="460.7" y="351.2">16</text>
<circle cx="478.3" cy="373.6" r="9.6" fill="#fff"/><path d="M475 365.4A11 11 0 0 1 481.6 381.8A8.8 8.8 0 0 0 475 365.4ZM481.6 381.8A14.1 14.1 0 0 1 475 365.4A8.8 8.8 0 0 0 481.6 381.8Z" fill="#808080" stroke="#000"/><circle cx="478.3" cy="373.6" r="8.8" fill="none" stroke="#000"/><rect x="477" y="372" width="3" height="3" fill="#000"/><text x="480.1" y="361.3">12</text>
<circle cx="513" cy="360.5" r="9.6" fill="#fff"/><path d="M509.3 352.5A9.8 9.8 0 0 1 516.7 368.5A8.8 8.8 0 0 0 509.3 352.5ZM516.7 368.5A16 16 0 0 1 509.3 352.5A8.8 8.8 0 0 0 516.7 368.5Z" fill="#808080" stroke="#000"/><circle cx="513" cy="360.5" r="8.8" fill="none" stroke="#000"/><rect x="512" y="359" width="3" height="3" fill="#000"/><text x="513.8" y="348.2">15</text>
<circle cx="532.2" cy="364.8" r="10" fill="#fff"/><path d="M529.8 355.9A9.8 9.8 0 0 1 534.6 373.7A9.2 9.2 0 0 0 529.8 355.9ZM534.6 373.7A14.8 14.8 0 0 1 529.8 355.9A9.2 9.2 0 0 0 534.6 373.7Z" fill="#808080" stroke="#000"/><circle cx="532.2" cy="364.8" r="9.2" fill="none" stroke="#000"/><rect x="531" y="363" width="3" height="3" fill="#000"/><text x="533" y="352.1">15</text>
<circle cx="539.4" cy="366" r="10" fill="#fff"/><path d="M537.8 356.9A10.4 10.4 0 0 1 541 375.1A9.2 9.2 0 0 0 537.8 356.9ZM541 375.1A13.3 13.3 0 0 1 537.8 356.9A9.2 9.2 0 0 0 541 375.1Z" fill="#808080" stroke="#000"/><circle cx="539.4" cy="366" r="9.2" fill="none" stroke="#000"/><rect x="538" y="365" width="3" height="3" fill="#000"/><text x="540.2" y="353.3">18</text>
<circle cx="550.5" cy="360.5" r="10.3" fill="#fff"/><path d="M553.7 351.6A12.7 12.7 0 0 1 547.3 369.4A9.5 9.5 0 0 0 553.7 351.6ZM547.3 369.4A12.7 12.7 0 0 1 553.7 351.6A9.5 9.5 0 0 0 547.3 369.4Z" fill="#808080" stroke="#000"/><circle cx="550.5" cy="360.5" r="9.5" fill="none" stroke="#000"/><rect x="549" y="359" width="3" height="3" fill="#000"/><text x="551.3" y="347.5">15</text>
<circle cx="554.5" cy="372" r="10.3" fill="#fff"/><path d="M553.7 362.5A11.9 11.9 0 0 1 555.3 381.5A9.5 9.5 0 0 0 553.7 362.5ZM555.3 381.5A13.8 13.8 0 0 1 553.7 362.5A9.5 9.5 0 0 0 555.3 381.5Z" fill="#808080" stroke="#000"/><circle cx="554.5" cy="372" r="9.5" fill="none" stroke="#000"/><rect x="553" y="370" width="3" height="3" fill="#000"/><text x="555.3" y="359">18</text>
<circle cx="541.5" cy="378" r="10.3" fill="#fff"/><path d="M539.5 368.7A11.9 11.9 0 0 1 543.5 387.3A9.5 9.5 0 0 0 539.5 368.7ZM543.5 387.3A13.8 13.8 0 0 1 539.5 368.7A9.5 9.5 0 0 0 543.5 387.3Z" fill="#808080" stroke="#000"/><circle cx="541.5" cy="378" r="9.5" fill="none" stroke="#000"/><rect x="540" y="376" width="3" height="3" fill="#000"/><text x="542.3" y="365">15</text>
<circle cx="547" cy="375.5" r="10.6" fill="#fff"/><path d="M545.6 365.8A12.2 12.2 0 0 1 548.4 385.2A9.8 9.8 0 0 0 545.6 365.8ZM548.4 385.2A14.2 14.2 0 0 1 545.6 365.8A9.8 9.8 0 0 0 548.4 385.2Z" fill="#808080" stroke="#000"/><circle cx="547" cy="375.5" r="9.8" fill="none" stroke="#000"/><rect x="546" y="374" width="3" height="3" fill="#000"/><text x="547.8" y="362.2">12</text>
<circle cx="543.5" cy="402.5" r="10.3" fill="#fff"/><path d="M543.5 393A12.7 12.7 0 0 1 543.5 412A9.5 9.5 0 0 0 543.5 393ZM543.5 412A12.7 12.7 0 0 1 543.5 393A9.5 9.5 0 0 0 543.5 412Z" fill="#808080" stroke="#000"/><circle cx="543.5" cy="402.5" r="9.5" fill="none" stroke="#000"/><rect x="542" y="401" width="3" height="3" fill="#000"/>
<circle cx="557" cy="383" r="10.3" fill="#fff"/><path d="M555.4 373.6A12.7 12.7 0 0 1 558.6 392.4A9.5 9.5 0 0 0 555.4 373.6ZM558.6 392.4A12.7 12.7 0 0 1 555.4 373.6A9.5 9.5 0 0 0 558.6 392.4Z" fill="#808080" stroke="#000"/><circle cx="557" cy="383" r="9.5" fill="none" stroke="#000"/><rect x="556" y="382" width="3" height="3" fill="#000"/><text x="557.8" y="370">12</text>
<circle cx="553.8" cy="384.4" r="10.8" fill="#fff"/><path d="M552.9 374.4A13.4 13.4 0 0 1 554.7 394.4A10 10 0 0 0 552.9 374.4ZM554.7 394.4A13.4 13.4 0 0 1 552.9 374.4A10 10 0 0 0 554.7 394.4Z" fill="#808080" stroke="#000"/><circle cx="553.8" cy="384.4" r="10" fill="none" stroke="#000"/><rect x="552" y="383" width="3" height="3" fill="#000"/><text x="554.6" y="370.9">15</text>
<circle cx="549.8" cy="388.4" r="11.2" fill="#fff"/><path d="M548.9 378A13.9 13.9 0 0 1 550.7 398.8A10.4 10.4 0 0 0 548.9 378ZM550.7 398.8A13.9 13.9 0 0 1 548.9 378A10.4 10.4 0 0 0 550.7 398.8Z" fill="#808080" stroke="#000"/><circle cx="549.8" cy="388.4" r="10.4" fill="none" stroke="#000"/><rect x="548" y="387" width="3" height="3" fill="#000"/><text x="550.6" y="374.5">13</text>
<circle cx="566.6" cy="380.5" r="9.4" fill="#fff"/><path d="M565.1 372A11.5 11.5 0 0 1 568.1 389A8.6 8.6 0 0 0 565.1 372ZM568.1 389A9.2 9.2 0 0 1 565.1 372A8.6 8.6 0 0 0 568.1 389Z" fill="#808080" stroke="#000"/><circle cx="566.6" cy="380.5" r="8.6" fill="none" stroke="#000"/><rect x="565" y="379" width="3" height="3" fill="#000"/><text x="564.4" y="368.4">15</text>
<circle cx="545.3" cy="393" r="11.6" fill="#fff"/><path d="M543.8 382.3A15.1 15.1 0 0 1 546.8 403.7A10.8 10.8 0 0 0 543.8 382.3ZM546.8 403.7A15.1 15.1 0 0 1 543.8 382.3A10.8 10.8 0 0 0 546.8 403.7Z" fill="#808080" stroke="#000"/><circle cx="545.3" cy="393" r="10.8" fill="none" stroke="#000"/><rect x="544" y="392" width="3" height="3" fill="#000"/><text x="546.1" y="378.7">10</text>
<circle cx="434.6" cy="309.6" r="10.2" fill="#fff"/><path d="M434.6 309.6L439.9 301.8A9.4 9.4 0 0 1 442.4 314.9ZM434.6 309.6L429.3 317.4A9.4 9.4 0 0 1 426.8 304.3Z" fill="#808080" stroke="#000"/><circle cx="434.6" cy="309.6" r="9.4" fill="none" stroke="#000"/><rect x="434" y="317" width="3" height="3" fill="#000"/><text x="435.4" y="296.7">15</text>
</g>
<polygon points="301.2,286.8 306.0,289.6 306.0,295.2 301.2,298.0 296.4,295.2 296.4,289.6" fill="#ffff00" shape-rendering="crispEdges"/>
<text class="t" transform="scale(0.84 1)" x="35.7 49.1 60.4 72.6 84.8 96.6 109.0 120.9 133.4 145.4 157.5 170.3 182.7 193.9 209.0 217.1 233.8 248.1 259.6 267.2 281.6 291.7 305.2 320.9 331.4 343.5 358.4 365.4 382.2 394.4 405.8 420.3 428.4 441.5 454.8 461.2 471.2 486.4 494.5 507.0 512.6 524.3" y="22" xml:space="preserve">E202410130615A M=5.1 h= 10 WEST CHILE RISE</text>
<text class="t" transform="scale(0.84 1)" x="688.4 700.5 711.4" y="34.2" xml:space="preserve">34S</text>
<text class="t" transform="scale(0.84 1)" x="688.4 700.5 711.4" y="145.7" xml:space="preserve">35S</text>
<text class="t" transform="scale(0.84 1)" x="688.4 700.4 711.4" y="257.7" xml:space="preserve">36S</text>
<text class="t" transform="scale(0.84 1)" x="688.4 700.4 711.4" y="368.59999999999997" xml:space="preserve">37S</text>
<text class="t" transform="scale(0.84 1)" x="688.4 700.4 711.4" y="480.7" xml:space="preserve">38S</text>
<text class="t" transform="scale(0.84 1)" x="10.0 21.4 33.6 45.5" y="494.7" xml:space="preserve">101W</text>
<text class="t" transform="scale(0.84 1)" x="118.3 129.7 142.1 153.8" y="494.7" xml:space="preserve">100W</text>
<text class="t" transform="scale(0.84 1)" x="232.6 244.5 255.5" y="494.7" xml:space="preserve">99W</text>
<text class="t" transform="scale(0.84 1)" x="339.7 351.6 362.7" y="494.7" xml:space="preserve">98W</text>
<text class="t" transform="scale(0.84 1)" x="448.1 460.0 471.0" y="494.7" xml:space="preserve">97W</text>
<text class="t" transform="scale(0.84 1)" x="555.2 567.1 578.1" y="494.7" xml:space="preserve">96W</text>
<text class="t" transform="scale(0.84 1)" x="662.4 674.3 685.3" y="494.7" xml:space="preserve">95W</text>
</svg>
</body></html>
